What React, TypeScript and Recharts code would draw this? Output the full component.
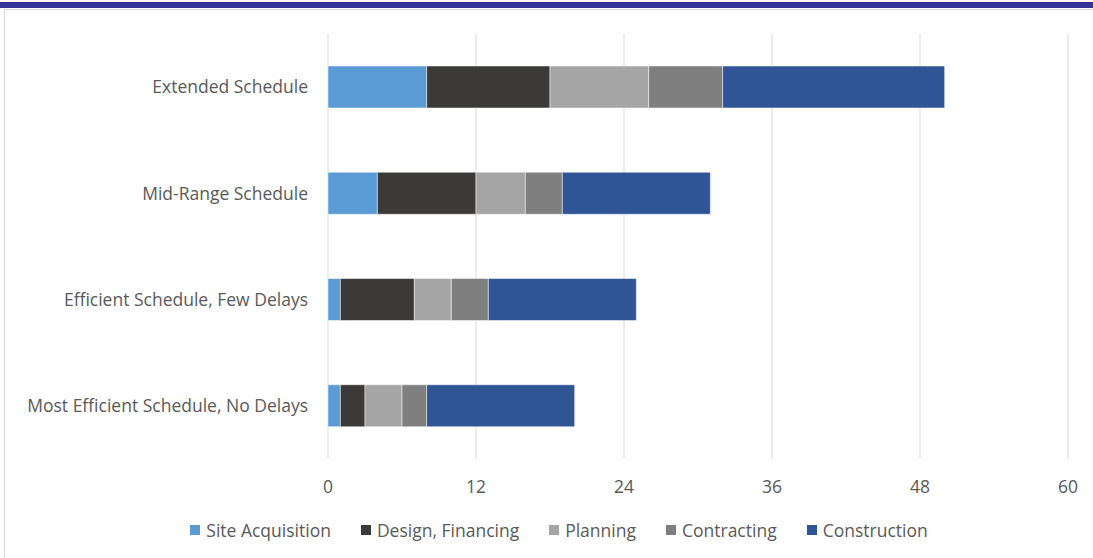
import { BarChart, Bar, XAxis, YAxis, CartesianGrid, Legend } from 'recharts';

// schedule scenarios, top to bottom
const schedules = [
  'Extended Schedule',
  'Mid-Range Schedule',
  'Efficient Schedule, Few Delays',
  'Most Efficient Schedule, No Delays',
];

// months spent in each phase
const siteAcquisition = [8, 4, 1, 1];
const designFinancing = [10, 8, 6, 2];
const planning = [8, 4, 3, 3];
const contracting = [6, 3, 3, 2];
const construction = [18, 12, 12, 12];

const xTicks = [0, 12, 24, 36, 48, 60];

const phases = [
  { key: 'site', name: 'Site Acquisition', values: siteAcquisition, color: '#5B9BD5' },
  { key: 'design', name: 'Design, Financing', values: designFinancing, color: '#3B3A38' },
  { key: 'planning', name: 'Planning', values: planning, color: '#A5A5A5' },
  { key: 'contracting', name: 'Contracting', values: contracting, color: '#7F7F7F' },
  { key: 'construction', name: 'Construction', values: construction, color: '#2F5597' },
];

const data = schedules.map((name, i) => {
  const row: Record<string, string | number> = { name };
  phases.forEach((p) => {
    row[p.key] = p.values[i];
  });
  return row;
});

const FONT = '"Open Sans", sans-serif';
const TEXT = '#595959';
const FS = 17.5;

// legend drawn as small squares followed by the phase name
const PhaseLegend = () => (
  <div
    style={{
      display: 'flex',
      justifyContent: 'center',
      gap: 30,
      fontFamily: FONT,
      fontSize: FS,
      color: TEXT,
      lineHeight: '22px',
      paddingLeft: 50,
    }}
  >
    {phases.map((p) => (
      <div key={p.key} style={{ display: 'flex', alignItems: 'center' }}>
        <span style={{ width: 10, height: 10, background: p.color, marginRight: 6, display: 'inline-block' }} />
        <span>{p.name}</span>
      </div>
    ))}
  </div>
);

export default function App() {
  return (
    <div style={{ position: 'absolute', left: 0, top: 0, width: 1093, height: 558, background: '#fff', overflow: 'hidden' }}>
      {/* header band and frame */}
      <div style={{ position: 'absolute', left: 0, top: 2, width: 1093, height: 6, background: '#333399' }} />
      <div style={{ position: 'absolute', left: 4, top: 9, width: 1100, height: 560, border: '1px solid #D9D9D9' }} />
      <div style={{ position: 'absolute', left: 0, top: 0 }}>
        <BarChart
          width={1093}
          height={558}
          data={data}
          layout="vertical"
          margin={{ top: 34, right: 25, bottom: 17, left: 0 }}
          barSize={42}
        >
          <CartesianGrid horizontal={false} stroke="#D9D9D9" strokeWidth={1} />
          <XAxis
            type="number"
            domain={[0, 60]}
            ticks={xTicks}
            axisLine={false}
            tickLine={false}
            tickSize={0}
            tickMargin={22}
            height={60}
            tick={{ fill: TEXT, fontSize: FS, fontFamily: FONT }}
            interval={0}
          />
          <YAxis
            type="category"
            dataKey="name"
            width={328}
            axisLine={false}
            tickLine={false}
            tickSize={0}
            tickMargin={20}
            tick={{ fill: TEXT, fontSize: FS, fontFamily: FONT }}
            interval={0}
          />
          <Legend verticalAlign="bottom" content={<PhaseLegend />} />
          {phases.map((p) => (
            <Bar
              key={p.key}
              dataKey={p.key}
              name={p.name}
              stackId="a"
              fill={p.color}
              stroke="#FFFFFF"
              strokeWidth={0.5}
              isAnimationActive={false}
            />
          ))}
        </BarChart>
      </div>
    </div>
  );
}
